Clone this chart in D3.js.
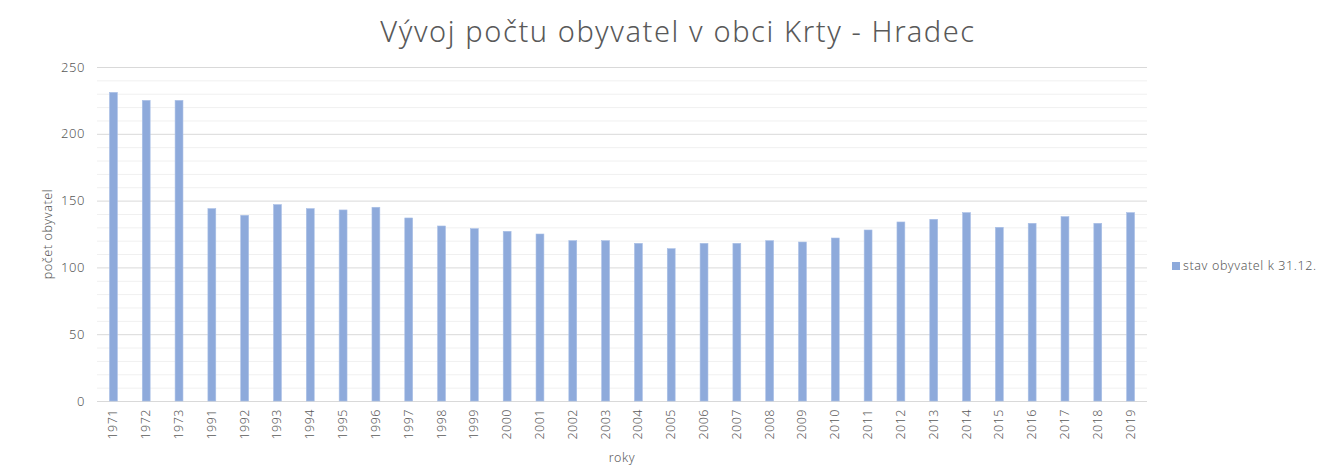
<!DOCTYPE html>
<html>
<head>
<meta charset="utf-8">
<script src="https://cdn.jsdelivr.net/npm/d3@7"></script>
<style>
  body { margin: 0; background: #fff; }
  text { font-family: "Noto Sans", "Open Sans", sans-serif; fill: #595959; }
</style>
</head>
<body>
<div class="container"></div>
<script>
// data
const years = ["1971", "1972", "1973", "1991", "1992", "1993", "1994", "1995", "1996", "1997",
  "1998", "1999", "2000", "2001", "2002", "2003", "2004", "2005", "2006", "2007",
  "2008", "2009", "2010", "2011", "2012", "2013", "2014", "2015", "2016", "2017",
  "2018", "2019"];
const population = [231, 225, 225, 144, 139, 147, 144, 143, 145, 137,
  131, 129, 127, 125, 120, 120, 118, 114, 118, 118,
  120, 119, 122, 128, 134, 136, 141, 130, 133, 138,
  133, 141];
const yTicks = [0, 50, 100, 150, 200, 250];
const seriesName = "stav obyvatel k 31.12.";

const W = 1325, H = 475;
const margin = { top: 67, right: 178, bottom: 74, left: 97 };
const width = W - margin.left - margin.right;
const height = H - margin.top - margin.bottom;

const svg = d3.select(".container")
  .append("svg")
  .attr("width", W)
  .attr("height", H);

const g = svg.append("g")
  .attr("transform", `translate(${margin.left}, ${margin.top})`);

const x = d3.scaleBand().domain(years).range([0, width]).paddingInner(0.76).paddingOuter(0.38);
const y = d3.scaleLinear().domain([0, 250]).range([height, 0]);

// minor gridlines every 10
g.selectAll("line.minor")
  .data(d3.range(10, 250, 10).filter((v) => v % 50 !== 0))
  .enter()
  .append("line")
  .attr("x1", 0).attr("x2", width)
  .attr("y1", (d) => y(d) + 0.5).attr("y2", (d) => y(d) + 0.5)
  .attr("stroke", "#f0f0f0");

// major gridlines
g.selectAll("line.major")
  .data(yTicks)
  .enter()
  .append("line")
  .attr("x1", 0).attr("x2", width)
  .attr("y1", (d) => y(d) + 0.5).attr("y2", (d) => y(d) + 0.5)
  .attr("stroke", "#d9d9d9");

// y tick labels
g.selectAll("text.ytick")
  .data(yTicks)
  .enter()
  .append("text")
  .attr("x", -12)
  .attr("y", (d) => y(d))
  .attr("dy", "0.35em")
  .style("text-anchor", "end")
  .style("font-size", "13px")
  .style("font-weight", 300)
  .style("letter-spacing", "0.6px")
  .text((d) => d);

// bars
g.selectAll("rect.bar")
  .data(population)
  .enter()
  .append("rect")
  .attr("x", (d, i) => x(years[i]))
  .attr("y", (d) => y(d))
  .attr("width", x.bandwidth())
  .attr("height", (d) => height - y(d))
  .attr("fill", "#8eaadb")
  .attr("stroke", "#a9bfe6")
  .attr("stroke-width", 0.6);

// x labels
g.selectAll("text.xtick")
  .data(years)
  .enter()
  .append("text")
  .attr("transform", (d) => `translate(${x(d) + x.bandwidth() / 2 + 4}, ${height + 8}) rotate(-90)`)
  .style("text-anchor", "end")
  .style("font-size", "12.5px")
  .style("font-weight", 300)
  .style("letter-spacing", "0.5px")
  .text((d) => d);

// axis titles
svg.append("text")
  .attr("x", margin.left + width / 2)
  .attr("y", 462)
  .style("text-anchor", "middle")
  .style("font-size", "12.5px")
  .style("font-weight", 300)
  .style("letter-spacing", "0.6px")
  .text("roky");

svg.append("text")
  .attr("transform", `translate(52, ${margin.top + height / 2}) rotate(-90)`)
  .style("text-anchor", "middle")
  .style("font-size", "12.5px")
  .style("font-weight", 300)
  .style("letter-spacing", "0.6px")
  .text("počet obyvatel");

// title
svg.append("text")
  .attr("x", 678)
  .attr("y", 42)
  .style("text-anchor", "middle")
  .style("font-size", "29px")
  .style("font-weight", 300)
  .style("letter-spacing", "1.6px")
  .text("Vývoj počtu obyvatel v obci Krty - Hradec");

// legend
const legend = svg.append("g").attr("transform", "translate(1172, 266)");
legend.append("rect")
  .attr("x", 0).attr("y", -4)
  .attr("width", 8).attr("height", 8)
  .attr("fill", "#8eaadb");
legend.append("text")
  .attr("x", 11)
  .attr("dy", "0.35em")
  .style("font-size", "12.5px")
  .style("font-weight", 300)
  .style("letter-spacing", "0.6px")
  .text(seriesName);
</script>
</body>
</html>
